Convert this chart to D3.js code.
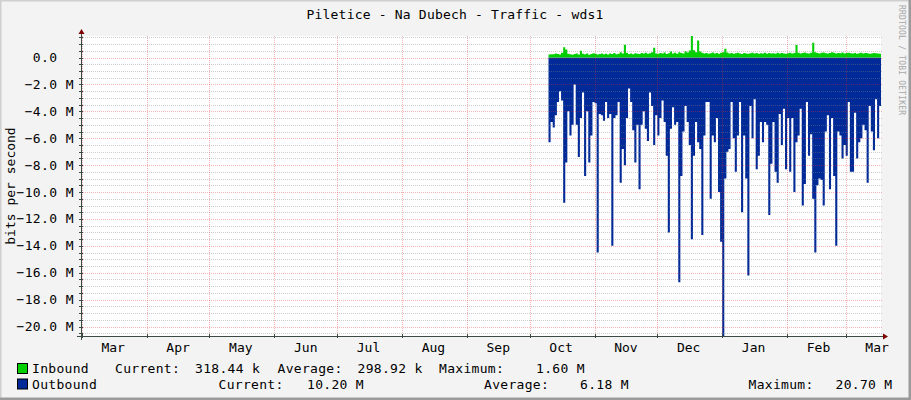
<!DOCTYPE html>
<html lang="en">
<head>
    <meta charset="UTF-8">
    <title>Piletice - Na Dubech - Traffic - wds1</title>
    <style>
        body {
            margin: 0;
            background-color: #f3f3f3;
        }
        svg {
            display: block;
        }
        text {
            font-family: "DejaVu Sans Mono", monospace;
            white-space: pre;
        }
    </style>
    <script src="https://d3js.org/d3.v7.min.js"></script>
</head>
<body>

<script>
    // daily samples, starting 2010-10-10 (UTC), values in Mbit/s
    const firstDay = Date.UTC(2010, 9, 10);

    const inbound = [
        0.22, 0.25, 0.24, 0.30, 0.26, 0.22, 0.35, 0.77, 0.60, 0.28,
        0.24, 0.20, 0.26, 0.30, 0.22, 0.50, 0.28,
        0.24, 0.30, 0.20, 0.26, 0.32, 0.28, 0.22, 0.26, 0.30, 0.24,
        0.28, 0.22, 0.30, 0.26, 0.34, 0.24, 0.28, 0.40, 0.30,
        0.95, 0.35,
        0.26, 0.30, 0.24, 0.32, 0.28, 0.26, 0.34, 0.30, 0.36, 0.28, 0.32, 0.40,
        0.72, 0.30,
        0.28, 0.34, 0.30, 0.38, 0.26, 0.32, 0.44, 0.30, 0.36, 0.28,
        0.40, 0.34, 0.30, 0.46, 0.38, 0.52,
        1.60, 0.55, 0.40, 1.26, 0.45,
        0.36, 0.30, 0.34, 0.28, 0.32, 0.38, 0.30, 0.34, 0.28, 0.36, 0.40,
        0.65, 0.38,
        0.30, 0.34, 0.28, 0.32, 0.36, 0.30, 0.26, 0.34, 0.30, 0.28,
        0.32, 0.36, 0.30, 0.34, 0.28, 0.32, 0.30, 0.36, 0.28, 0.34,
        0.30, 0.32, 0.28, 0.36, 0.30, 0.34, 0.30, 0.28, 0.32, 0.36,
        0.30, 0.34,
        0.94, 0.36,
        0.30, 0.34, 0.38, 0.32, 0.30, 0.36,
        1.09, 0.40,
        0.34, 0.30, 0.36, 0.38, 0.32, 0.30, 0.34, 0.40, 0.36, 0.30,
        0.34, 0.32, 0.38, 0.30, 0.34, 0.36, 0.32, 0.30, 0.34, 0.28,
        0.32, 0.36, 0.30, 0.34, 0.32, 0.28, 0.30, 0.34, 0.32, 0.30,
        0.28, 0.32
    ];

    const outbound = [
        6.3, 4.8, 5.2, 4.3, 3.3, 2.5, 3.2, 10.8, 7.8, 4.0,
        5.8, 5.0, 2.0, 5.0, 7.4, 4.5, 2.6, 8.8, 4.0, 7.8,
        5.8, 3.3, 3.4, 14.5, 4.2, 4.3, 4.7, 3.3, 4.5, 4.2,
        14.0, 4.5, 4.3, 3.3, 9.3, 6.8, 8.0, 4.5, 2.3, 3.3,
        5.4, 7.8, 5.0, 9.8, 5.0, 4.0, 5.3, 6.2, 2.6, 3.6,
        6.5, 4.3, 5.8, 4.5, 3.2, 4.8, 7.3, 13.0, 5.3, 3.7,
        5.0, 4.8, 16.7, 8.8, 5.5, 3.6, 4.8, 6.5, 13.5, 7.3,
        4.8, 6.3, 6.8, 13.2, 5.8, 3.3, 3.3, 10.5, 5.8, 6.3,
        4.5, 10.0, 13.7, 20.7, 9.0, 7.0, 6.8, 3.3, 6.0, 8.5,
        5.8, 3.3, 11.5, 5.8, 9.0, 16.2, 3.6, 6.0, 3.1, 8.3,
        7.3, 4.8, 6.3, 4.8, 5.0, 11.7, 7.9, 4.8, 8.5, 9.3,
        4.2, 6.5, 3.8, 8.3, 4.5, 8.5, 4.5, 10.0, 6.3, 5.8,
        3.8, 11.0, 9.4, 3.3, 7.3, 5.7, 10.5, 14.5, 9.5, 9.0,
        9.1, 11.0, 5.5, 4.3, 9.8, 4.5, 8.8, 14.0, 5.5, 5.8,
        7.5, 6.5, 7.3, 3.3, 8.5, 8.5, 4.1, 7.5, 6.3, 6.0,
        5.0, 5.4, 9.3, 3.6, 5.5, 6.9, 3.1, 6.0, 3.6, 4.5
    ];

    const seriesNames = ["Inbound", "Outbound"];
    const seriesColors = ["#00CF00", "#002A97"];
    const statLabels = ["Current:", "Average:", "Maximum:"];
    const inboundStats = ["318.44 k", "298.92 k", "1.60 M"];
    const outboundStats = ["10.20 M", "6.18 M", "20.70 M"];

    const yMajorTicks = d3.range(-20, 0.1, 2);      // M
    const yMinorTicks = d3.range(-20.5, 1.6, 0.5);  // M

    const width = 911;
    const height = 400;
    const plot = { left: 81, right: 881, top: 36, bottom: 336 };

    const svg = d3.select("body")
                  .append("svg")
                  .attr("width", width)
                  .attr("height", height);

    // frame
    svg.append("rect").attr("width", width).attr("height", height).attr("fill", "#f3f3f3");
    svg.append("path").attr("d", `M0,${height} V0 H${width}`)
       .attr("fill", "none").attr("stroke", "#cfcfcf").attr("stroke-width", 3);
    svg.append("path").attr("d", `M0,${height - 1} H${width - 1} V0`)
       .attr("fill", "none").attr("stroke", "#9b9b9b").attr("stroke-width", 3);

    const x = d3.scaleUtc()
                .domain([new Date(Date.UTC(2010, 1, 28, 14, 40)), new Date(Date.UTC(2011, 2, 17, 21, 0))])
                .range([plot.left, plot.right]);

    const y = d3.scaleLinear()
                .domain([-20.7, 1.6])
                .range([plot.bottom, plot.top]);

    const day = i => new Date(firstDay + i * 86400000);

    svg.append("rect")
       .attr("x", plot.left).attr("y", plot.top)
       .attr("width", plot.right - plot.left).attr("height", plot.bottom - plot.top)
       .attr("fill", "white");

    svg.append("clipPath").attr("id", "clip")
       .append("rect")
       .attr("x", plot.left).attr("y", plot.top)
       .attr("width", plot.right - plot.left).attr("height", plot.bottom - plot.top);

    const areas = svg.append("g").attr("clip-path", "url(#clip)");

    // one column per sample, like rrdtool's AREA
    const inArea = d3.area()
                     .curve(d3.curveStepAfter)
                     .x((d, i) => x(day(i)))
                     .y0(y(0))
                     .y1(d => y(d));

    const outArea = d3.area()
                      .curve(d3.curveStepAfter)
                      .x((d, i) => x(day(i)))
                      .y0(y(0))
                      .y1(d => y(-d));

    areas.append("path").datum(outbound).attr("d", outArea).attr("fill", seriesColors[1]);
    areas.append("path").datum(inbound).attr("d", inArea).attr("fill", seriesColors[0]);

    // grid on top of the areas, like rrdtool does
    const crisp = v => Math.round(v) + 0.5;
    const grid = svg.append("g").attr("shape-rendering", "crispEdges");

    grid.selectAll(".minor")
        .data(yMinorTicks.filter(v => Math.abs(v % 2) > 0.01))
        .enter()
        .append("line")
        .attr("x1", plot.left).attr("x2", plot.right + 2)
        .attr("y1", d => crisp(y(d))).attr("y2", d => crisp(y(d)))
        .attr("stroke", "rgba(130,130,130,0.4)")
        .attr("stroke-dasharray", "1,1");

    const months = d3.utcMonth.range(x.domain()[0], x.domain()[1]);

    grid.selectAll(".vmajor")
        .data(months)
        .enter()
        .append("line")
        .attr("x1", d => crisp(x(d))).attr("x2", d => crisp(x(d)))
        .attr("y1", plot.top).attr("y2", plot.bottom)
        .attr("stroke", "rgba(230,40,40,0.35)")
        .attr("stroke-dasharray", "1,1");

    grid.selectAll(".major")
        .data(yMajorTicks)
        .enter()
        .append("line")
        .attr("x1", plot.left).attr("x2", plot.right + 2)
        .attr("y1", d => crisp(y(d))).attr("y2", d => crisp(y(d)))
        .attr("stroke", "rgba(230,40,40,0.35)")
        .attr("stroke-dasharray", "1,1");

    // axes
    const axisColor = "#3c4a45";
    const axes = svg.append("g").attr("shape-rendering", "crispEdges");

    axes.selectAll(".ytick")
        .data(yMinorTicks.concat(yMajorTicks))
        .enter()
        .append("line")
        .attr("x1", plot.left - 2).attr("x2", plot.left + 2)
        .attr("y1", d => crisp(y(d))).attr("y2", d => crisp(y(d)))
        .attr("stroke", axisColor);

    axes.selectAll(".xtick")
        .data(months)
        .enter()
        .append("line")
        .attr("x1", d => crisp(x(d))).attr("x2", d => crisp(x(d)))
        .attr("y1", plot.bottom - 2).attr("y2", plot.bottom + 2)
        .attr("stroke", axisColor);

    axes.append("line")
        .attr("x1", plot.left + 0.5).attr("x2", plot.left + 0.5)
        .attr("y1", plot.bottom + 4).attr("y2", plot.top - 4)
        .attr("stroke", axisColor);

    axes.append("line")
        .attr("x1", plot.left - 4).attr("x2", plot.right + 3)
        .attr("y1", plot.bottom + 0.5).attr("y2", plot.bottom + 0.5)
        .attr("stroke", axisColor);

    svg.append("path")
       .attr("d", `M${plot.left - 2.5},${plot.top - 2} L${plot.left + 3.5},${plot.top - 2} L${plot.left + 0.5},${plot.top - 7} Z`)
       .attr("fill", "#7f0000");
    svg.append("path")
       .attr("d", `M${plot.right + 2},${plot.bottom - 2.5} L${plot.right + 2},${plot.bottom + 3.5} L${plot.right + 7},${plot.bottom + 0.5} Z`)
       .attr("fill", "#7f0000");

    // y labels
    svg.selectAll(".ylabel")
       .data(yMajorTicks)
       .enter()
       .append("text")
       .attr("x", 74)
       .attr("y", d => y(d) + 4.5)
       .attr("text-anchor", "end")
       .attr("font-size", "13px")
       .attr("letter-spacing", "0.4px")
       .attr("xml:space", "preserve")
       .text(d => d === 0 ? "0.0  " : d3.format(".1f")(d) + " M");

    // month labels centred half a month after the line
    svg.selectAll(".xlabel")
       .data(months)
       .enter()
       .append("text")
       .attr("x", d => x(new Date(+d + 15 * 86400000)))
       .attr("y", 351.5)
       .attr("text-anchor", "middle")
       .attr("font-size", "13px")
       .text(d3.utcFormat("%b"));

    svg.append("text")
       .attr("x", 455).attr("y", 19)
       .attr("text-anchor", "middle")
       .attr("font-size", "13px")
       .attr("letter-spacing", "0.2px")
       .text("Piletice - Na Dubech - Traffic - wds1");

    svg.append("text")
       .attr("transform", `translate(15,${(plot.top + plot.bottom) / 2}) rotate(-90)`)
       .attr("text-anchor", "middle")
       .attr("font-size", "13px")
       .text("bits per second");

    svg.append("text")
       .attr("transform", "translate(899,5) rotate(90)")
       .attr("font-size", "8px")
       .attr("letter-spacing", "0.2px")
       .attr("fill", "#a8a8a8")
       .text("RRDTOOL / TOBI OETIKER");

    // legend
    const legendRows = [
        { y: 373, stats: inboundStats, xs: [32, 115, 195, 277.5, 357.5, 439, 536] },
        { y: 388.5, stats: outboundStats, xs: [32, 218.5, 307, 484, 580, 748.5, 835.5] }
    ];

    legendRows.forEach((row, r) => {
        svg.append("rect")
           .attr("x", 17.5).attr("y", row.y - 9.5)
           .attr("width", 10).attr("height", 10)
           .attr("fill", seriesColors[r])
           .attr("stroke", "black");

        const parts = [seriesNames[r]];
        statLabels.forEach((l, k) => { parts.push(l, row.stats[k]); });

        svg.selectAll(".legend" + r)
           .data(parts)
           .enter()
           .append("text")
           .attr("x", (d, k) => row.xs[k])
           .attr("y", row.y)
           .attr("font-size", "13px")
           .attr("letter-spacing", "0.3px")
           .text(d => d);
    });
</script>

</body>
</html>
